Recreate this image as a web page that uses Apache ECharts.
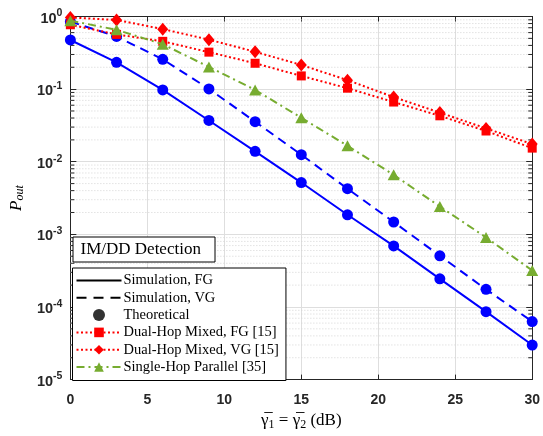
<!DOCTYPE html>
<html>
<head>
<meta charset="utf-8">
<script src="https://cdn.jsdelivr.net/npm/echarts@6/dist/echarts.min.js"></script>
<style>
  html, body { margin: 0; padding: 0; background: #fff; }
  #chart { width: 543px; height: 436px; }
</style>
</head>
<body>
<div id="chart"></div>
<script>
// Average SNR per hop (dB)
const snrDb = [0, 3, 6, 9, 12, 15, 18, 21, 24, 27, 30];

// Outage probability curves
const simFG  = [0.475, 0.234, 0.0975, 0.037, 0.0139, 0.00517, 0.00186, 0.000693, 0.000244, 0.0000863, 0.0000299];
const simVG  = [0.85, 0.532, 0.257, 0.1007, 0.0356, 0.0125, 0.00425, 0.00148, 0.000507, 0.000175, 0.000063];
const dualFG = [0.77, 0.567, 0.455, 0.323, 0.227, 0.152, 0.103, 0.0664, 0.0429, 0.0265, 0.0154];
const dualVG = [0.97, 0.897, 0.67, 0.48, 0.327, 0.215, 0.133, 0.0776, 0.0475, 0.0288, 0.0175];
const singleHop = [0.877, 0.656, 0.415, 0.202, 0.0976, 0.0403, 0.0166, 0.0066, 0.00242, 0.000908, 0.000318];

// Axis ranges
const xMin = 0, xMax = 30, xStep = 5;
const yMin = 1e-5, yMax = 1;

const legendNames = [
  'Simulation, FG', 'Simulation, VG', 'Theoretical',
  'Dual-Hop Mixed, FG [15]', 'Dual-Hop Mixed, VG [15]', 'Single-Hop Parallel [35]'
];

const AXIS = '#262626';
const BLUE = '#0000ff', RED = '#ff0000', GREEN = '#77ac30';

// minor decade ticks (2..9 x 10^k) for the log axis
const minorTicks = [];
for (let e = Math.log10(yMin); e < Math.log10(yMax); e++) {
  for (let k = 2; k <= 9; k++) minorTicks.push(k * Math.pow(10, e));
}

const pairs = ys => snrDb.map((x, i) => [x, ys[i]]);

const serif = 'Liberation Serif';
const sans = 'Liberation Sans';

const chart = echarts.init(document.getElementById('chart'), null, { renderer: 'canvas' });

chart.setOption({
  animation: false,
  backgroundColor: '#fff',
  grid: { left: 65, right: 8, top: 16.5, bottom: 51, containLabel: false },
  title: {
    text: 'IM/DD Detection',
    left: 72.5, top: 236.5,
    padding: [5, 14, 4, 8],
    borderColor: '#000', borderWidth: 1, backgroundColor: '#fff',
    textStyle: { fontFamily: serif, fontWeight: 'normal', fontSize: 17, color: '#000' }
  },
  legend: {
    data: legendNames.map((n, i) => i < 2 ? { name: n, itemStyle: { opacity: 0 } } : n),
    orient: 'vertical',
    left: 72.5, top: 268,
    padding: [5, 7, 6, 3],
    itemWidth: 45, itemHeight: 12, itemGap: 2.3,
    borderColor: '#000', borderWidth: 1, backgroundColor: '#fff',
    textStyle: { fontFamily: serif, fontSize: 14.5, lineHeight: 12, color: '#000', padding: [0, 0, 0, -3] },
    selectedMode: false
  },
  xAxis: [{
    type: 'value', min: xMin, max: xMax, interval: xStep,
    axisLine: { onZero: false, lineStyle: { color: AXIS, width: 1 } },
    axisTick: { inside: true, length: 5, lineStyle: { color: AXIS } },
    axisLabel: { fontFamily: sans, fontWeight: 'bold', fontSize: 14, color: AXIS, margin: 14 },
    splitLine: { show: true, lineStyle: { color: '#dedede', width: 1 } },
    name: '{g|\u03b3\u0305}{s|1}{g| = \u03b3\u0305}{s|2}{g| (dB)}',
    nameLocation: 'middle', nameGap: 30,
    nameTextStyle: {
      rich: {
        g: { fontFamily: serif, fontSize: 17, color: '#000' },
        s: { fontFamily: serif, fontSize: 12, color: '#000', padding: [8, 0, 0, 0] }
      }
    }
  }, {
    type: 'value', min: xMin, max: xMax, interval: xStep, position: 'top',
    axisLine: { onZero: false, lineStyle: { color: AXIS, width: 1 } },
    axisTick: { inside: true, length: 5, lineStyle: { color: AXIS } },
    axisLabel: { show: false }, splitLine: { show: false }
  }],
  yAxis: [{
    type: 'log', logBase: 10, min: yMin, max: yMax,
    axisLine: { show: true, onZero: false, lineStyle: { color: AXIS, width: 1 } },
    axisTick: { show: true, inside: true, length: 6, lineStyle: { color: AXIS } },
    splitLine: { show: true, lineStyle: { color: '#dedede', width: 1 } },
    axisLabel: {
      margin: 8,
      formatter: v => '{b|10}{s|' + Math.round(Math.log10(v)) + '}',
      rich: {
        b: { fontFamily: sans, fontWeight: 'bold', fontSize: 14.5, color: AXIS, padding: [4, 0, 0, 0] },
        s: { fontFamily: sans, fontWeight: 'bold', fontSize: 10.5, color: AXIS, padding: [0, 0, 6, 0] }
      }
    },
    name: '{p|P}{s|out}',
    nameLocation: 'middle', nameGap: 42, nameRotate: 90,
    nameTextStyle: {
      rich: {
        p: { fontFamily: serif, fontStyle: 'italic', fontSize: 17, color: '#000' },
        s: { fontFamily: serif, fontStyle: 'italic', fontSize: 12, color: '#000', padding: [7, 0, 0, 0] }
      }
    }
  }, {
    type: 'log', logBase: 10, min: yMin, max: yMax, position: 'right',
    axisLine: { show: true, onZero: false, lineStyle: { color: AXIS, width: 1 } },
    axisTick: { show: true, inside: true, length: 6, lineStyle: { color: AXIS } },
    axisLabel: { show: false }, splitLine: { show: false }
  }],
  series: [
    {
      // dotted minor grid lines and minor ticks on both vertical edges
      type: 'custom', silent: true, z: 1,
      data: minorTicks.map(v => [xMin, v]),
      renderItem: (params, api) => {
        const cs = params.coordSys;
        const y = api.coord([xMin, api.value(1)])[1];
        const x0 = cs.x, x1 = cs.x + cs.width;
        return {
          type: 'group',
          children: [
            { type: 'line', shape: { x1: x0, y1: y, x2: x1, y2: y },
              style: { stroke: '#d4d4d4', lineWidth: 1, lineDash: [1, 2] } },
            { type: 'line', shape: { x1: x0, y1: y, x2: x0 + 4, y2: y },
              style: { stroke: AXIS, lineWidth: 1 } },
            { type: 'line', shape: { x1: x1 - 4, y1: y, x2: x1, y2: y },
              style: { stroke: AXIS, lineWidth: 1 } }
          ]
        };
      }
    },
    {
      name: 'sim-fg', type: 'line', data: pairs(simFG), z: 2,
      symbol: 'circle', symbolSize: 11,
      lineStyle: { color: BLUE, width: 2 }, itemStyle: { color: BLUE }
    },
    {
      name: 'sim-vg', type: 'line', data: pairs(simVG), z: 2,
      symbol: 'circle', symbolSize: 11,
      lineStyle: { color: BLUE, width: 2, type: [9, 6] }, itemStyle: { color: BLUE }
    },
    {
      name: 'Dual-Hop Mixed, FG [15]', type: 'line', data: pairs(dualFG), z: 3,
      symbol: 'rect', symbolSize: 9,
      lineStyle: { color: RED, width: 2, type: [2, 2.5] }, itemStyle: { color: RED }
    },
    {
      name: 'Dual-Hop Mixed, VG [15]', type: 'line', data: pairs(dualVG), z: 3,
      symbol: 'diamond', symbolSize: [11, 13],
      lineStyle: { color: RED, width: 2, type: [2, 2.5] }, itemStyle: { color: RED }
    },
    {
      name: 'Single-Hop Parallel [35]', type: 'line', data: pairs(singleHop), z: 4,
      symbol: 'triangle', symbolSize: [12, 11],
      lineStyle: { color: GREEN, width: 2, type: [8, 4, 2, 4] }, itemStyle: { color: GREEN }
    },
    // legend-only entries
    {
      name: 'Simulation, FG', type: 'line', data: [], symbol: 'none',
      lineStyle: { color: '#000', width: 2 }, itemStyle: { color: '#000' }
    },
    {
      name: 'Simulation, VG', type: 'line', data: [], symbol: 'none',
      lineStyle: { color: '#000', width: 2, type: [10, 7] }, itemStyle: { color: '#000' }
    },
    {
      name: 'Theoretical', type: 'scatter', data: [], symbol: 'circle', symbolSize: 10,
      itemStyle: { color: '#000' }
    }
  ]
});
</script>
</body>
</html>
